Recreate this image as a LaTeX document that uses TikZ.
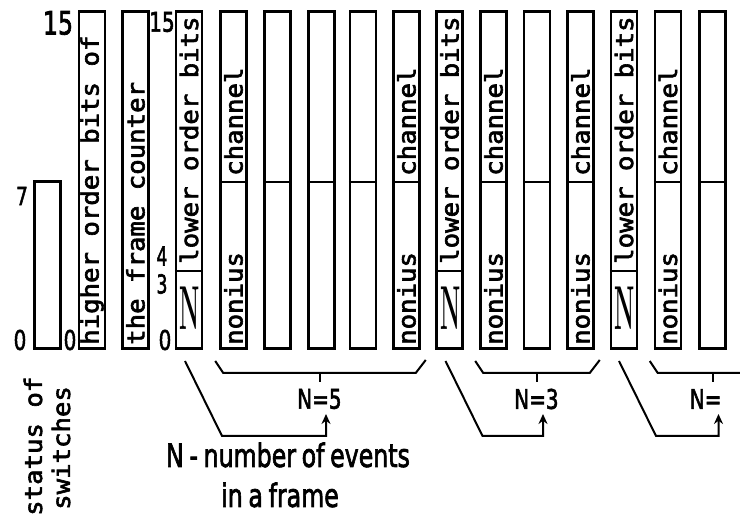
\documentclass[tikz,border=0pt]{standalone}
\usepackage{fontspec}
\usepackage{graphicx}
\usetikzlibrary{calc,arrows.meta}
\newfontfamily\boxfont[FakeBold=2.5]{DejaVu Sans Mono}
\newfontfamily\lblfont[WordSpace=0.75,FakeBold=2.5]{DejaVu Sans}
\newcommand{\wide}[1]{\scalebox{1.07}[1]{#1}}
\newcommand{\narrow}[1]{\scalebox{0.74}[1]{#1}}
\tikzset{
  slot/.style={
    draw,
    line width=2.5pt,
    inner sep=0pt,
    minimum width=26pt,
    minimum height=337pt,
    anchor=south
  },
  field/.style={
    rotate=90,
    anchor=west,
    inner sep=0pt,
    font=\boxfont\fontsize{24}{24}\selectfont
  },
  num/.style={
    inner sep=0pt,
    font=\lblfont\fontsize{27}{27}\selectfont
  },
  evt/.style={
    inner sep=0pt,
    font=\rmfamily\bfseries\fontsize{62}{62}\selectfont
  },
  cut/.style={line width=2pt},
  brace/.style={line width=2pt},
  flow/.style={
    line width=2pt,
    -{Stealth[length=10pt,width=9pt]}
  }
}

\begin{document}
\begin{tikzpicture}[x=1pt,y=-1pt]
        \useasboundingbox (0,0) rectangle (740,518);
        % words of the frame
        \node[slot, minimum height=167pt] (sw) at (47.5,350) {};
        \node[slot] (hi) at (92,350) {};
        \node[slot] (fc) at (135.5,350) {};
        \node[slot] (lo1) at (189,350) {};
        \node[slot] (c1) at (233.5,350) {};
        \node[slot] (c2) at (277.5,350) {};
        \node[slot] (c3) at (321.5,350) {};
        \node[slot] (c4) at (363,350) {};
        \node[slot] (c5) at (406.5,350) {};
        \node[slot] (lo2) at (449.5,350) {};
        \node[slot] (c6) at (493.5,350) {};
        \node[slot] (c7) at (537,350) {};
        \node[slot] (c8) at (580.5,350) {};
        \node[slot] (lo3) at (624,350) {};
        \node[slot] (c9) at (668,350) {};
        \node[slot] (c10) at (712.5,350) {};
        \coordinate (chcut) at (0,182);
        \coordinate (locut) at (0,271);
        \foreach \i in {1,...,10}
            \draw[cut] (c\i.west |- chcut) -- (c\i.east |- chcut);
        \foreach \i in {1,2,3}
            \draw[cut] (lo\i.west |- locut) -- (lo\i.east |- locut);

        \node[field] (hiT) at ($(hi.south)+(0,-5)$) {\wide{higher order bits of}};
        \node[field] (fcT) at ($(fc.south)+(0,-5)$) {\wide{the frame counter}};
        \foreach \i in {1,2,3} {
            \node[field] (lb\i) at ($(lo\i.south)+(0,-86)$) {\wide{lower order bits}};
            \node[evt] (N\i) at ($(lo\i.south)+(1,-42)$) {\scalebox{0.37}[1]{N}};
        }
        \foreach \i in {1,5,6,8,9} {
            \node[field] (ch\i) at ($(c\i.south)+(0,-174)$) {\wide{channel}};
            \node[field] (no\i) at ($(c\i.south)+(0,-5)$) {\wide{nonius}};
        }

        % bit numbers
        \node[num, font=\lblfont\fontsize{32}{32}\selectfont] (b15) at (58,23) {\narrow{15}};
        \node[num, font=\lblfont\fontsize{25}{25}\selectfont] (b7) at (22,196) {\narrow{7}};
        \node[num] (b0) at (20,340) {\narrow{0}};
        \node[num] (h0) at (70,340) {\narrow{0}};
        \node[num] (l15) at (162,22) {\narrow{15}};
        \node[num, font=\lblfont\fontsize{26}{26}\selectfont] (l4) at (162,256) {\scalebox{0.66}[1]{4}};
        \node[num, font=\lblfont\fontsize{26}{26}\selectfont] (l3) at (162,284) {\scalebox{0.66}[1]{3}};
        \node[num] (l0) at (165,340) {\narrow{0}};

        \node[field] (stat) at (33,516) {\wide{status of}};
        \node[field] (swi) at (61,510) {\wide{switches}};

        % events
        \draw[brace] ($(c1.south west)+(-4,11)$) -- ++(8,12) -- ($(c5.south east)+(-5,23)$) -- ++(10,-13);
        \coordinate (t5) at ($(c1.south)!0.5!(c5.south)+(0,23)$);
        \draw[brace] (t5) -- ++(0,9);
        \node[num, anchor=west] (n5) at ($(t5)+(-23,26)$) {\narrow{N=5}};
        \draw[flow] ($(lo1.south)+(-4,11)$) -- ++(37,75) -| ($(t5)+(6,41)$);

        \draw[brace] ($(c6.south west)+(-4,11)$) -- ++(8,12) -- ($(c8.south east)+(-5,23)$) -- ++(10,-13);
        \coordinate (t3) at ($(c6.south)!0.5!(c8.south)+(0,23)$);
        \draw[brace] (t3) -- ++(0,9);
        \node[num, anchor=west] (n3) at ($(t3)+(-23,26)$) {\narrow{N=3}};
        \draw[flow] ($(lo2.south)+(-4,11)$) -- ++(37,75) -| ($(t3)+(6,41)$);

        \draw[brace] ($(c9.south west)+(-4,11)$) -- ++(8,12) -- ($(c10.south east)+(20,23)$);
        \coordinate (tx) at ($(c10.south)+(0,23)$);
        \draw[brace] (tx) -- ++(0,9);
        \node[num, anchor=west] (nx) at ($(tx)+(-23,26)$) {\narrow{N=}};
        \draw[flow] ($(lo3.south)+(-5,11)$) -- ++(37,75) -| ($(tx)+(6,41)$);

        \node[num, font=\lblfont\fontsize{32}{32}\selectfont] (key) at (288,455) {\narrow{N - number of events}};
        \node[num, font=\lblfont\fontsize{32}{32}\selectfont] (key2) at (280,495) {\narrow{in a frame}};
\end{tikzpicture}
\end{document}
